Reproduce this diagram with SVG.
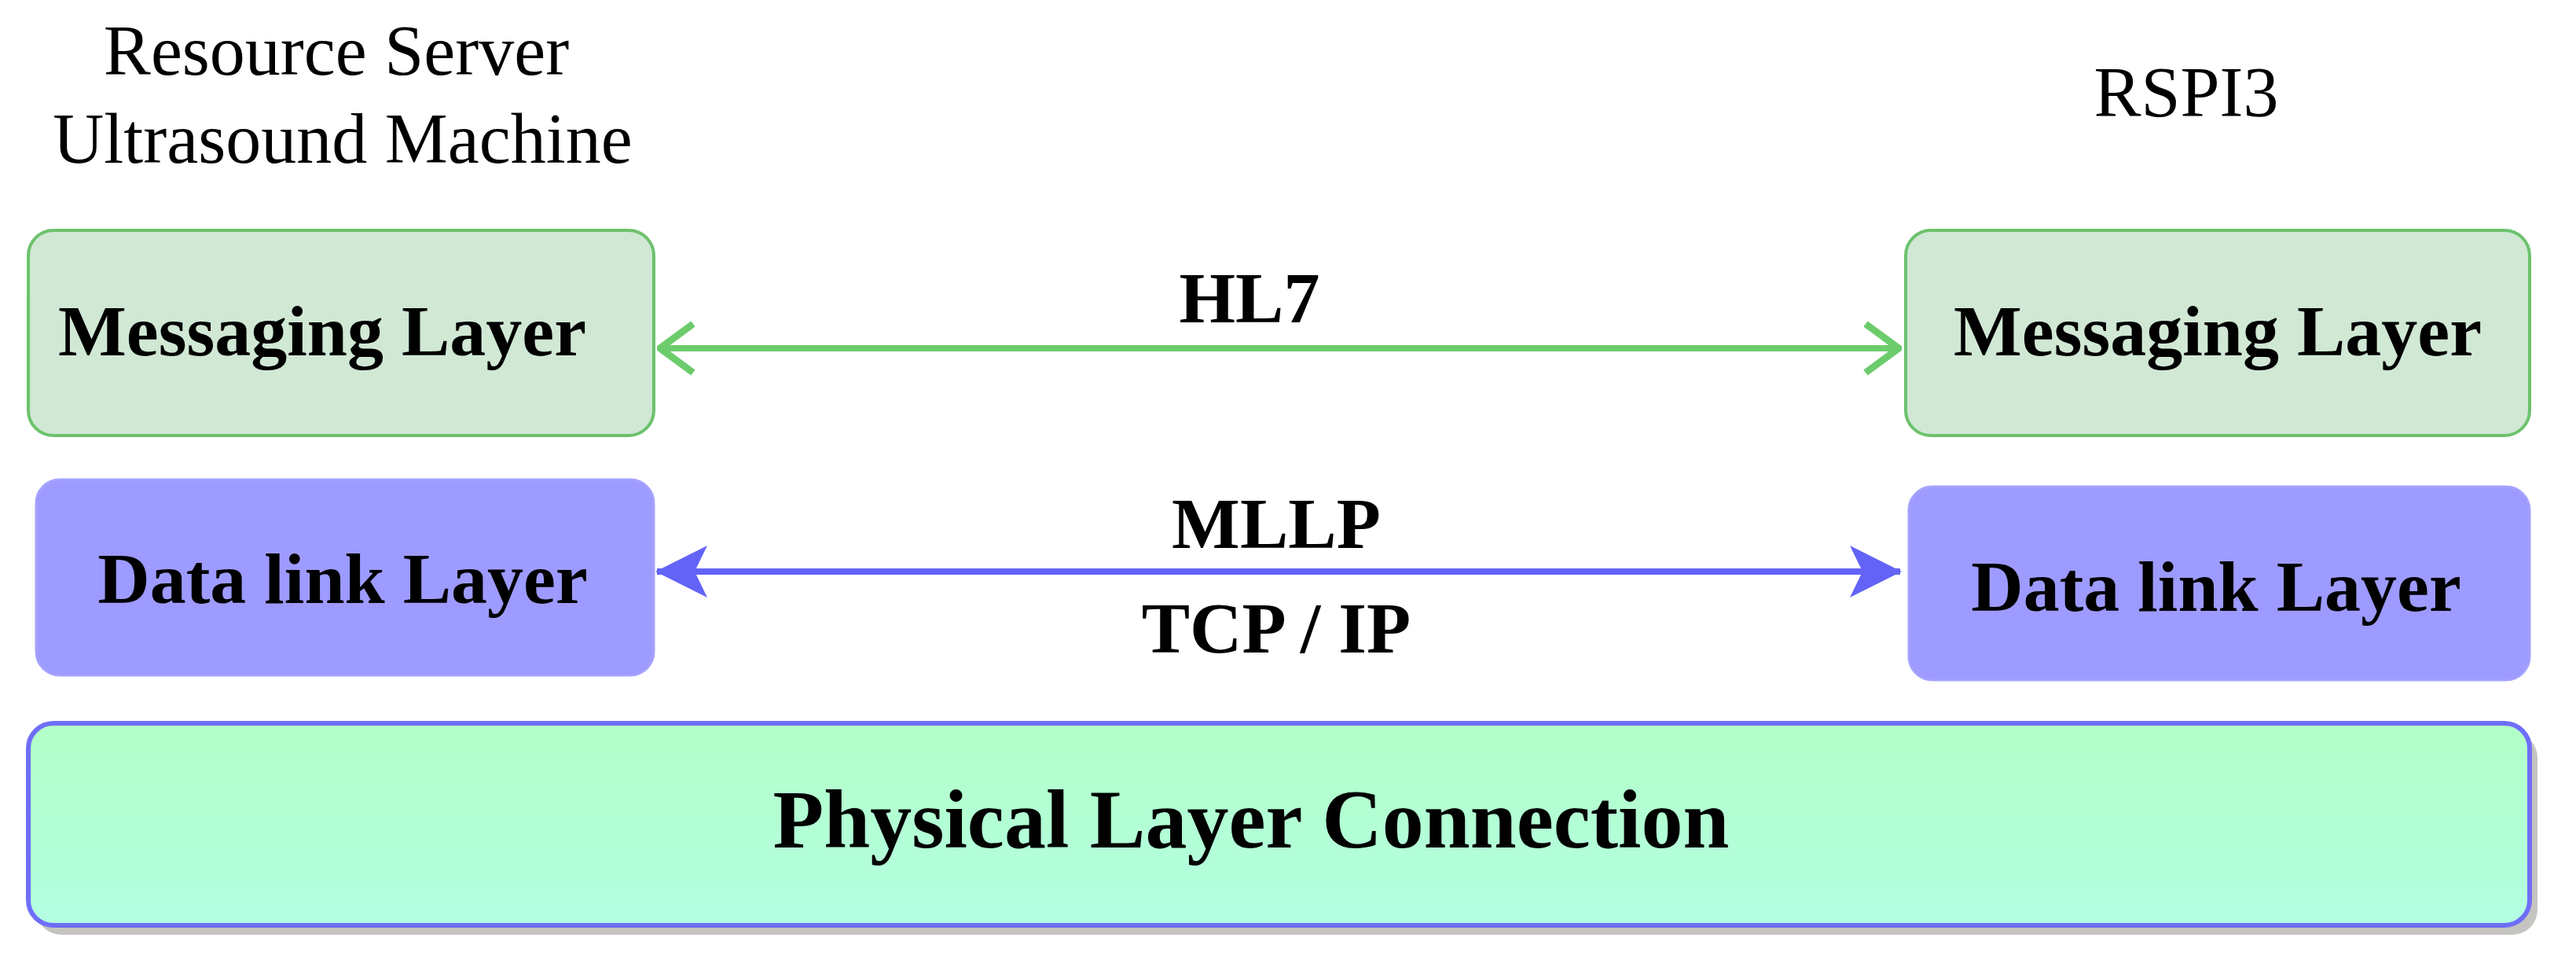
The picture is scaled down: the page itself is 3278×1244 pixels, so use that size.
<svg xmlns="http://www.w3.org/2000/svg" width="3278" height="1244" viewBox="0 0 3278 1244">
<defs>
<style>
text{font-family:"Liberation Serif","Times New Roman",serif;text-anchor:middle;fill:#000}
.b{font-weight:bold;font-size:92px}
.h{font-size:90px}
.msg{fill:#d0e8d4;stroke:#6cc26c;stroke-width:4}
.dl{fill:#9d9bff;stroke:#a4a2ff;stroke-width:3}
</style>
<marker id="gOpen" viewBox="0 0 50 70" refX="46" refY="35" markerWidth="50" markerHeight="70" orient="auto-start-reverse" markerUnits="userSpaceOnUse">
<path d="M4,4 L46,35 L4,66" fill="none" stroke="#6ccc6c" stroke-width="9"/>
</marker>
<marker id="bArr" viewBox="0 0 66 66" refX="64" refY="33" markerWidth="66" markerHeight="66" orient="auto-start-reverse" markerUnits="userSpaceOnUse">
<path d="M0,0 L66,33 L0,66 L16,33 Z" fill="#6363f7"/>
</marker>
<linearGradient id="pg" x1="0" y1="0" x2="0" y2="1"><stop offset="0" stop-color="#b3ffc8"/><stop offset="1" stop-color="#b3ffe2"/></linearGradient>
</defs>
<text class="h" x="428" y="95">Resource Server</text>
<text class="h" x="436" y="207">Ultrasound Machine</text>
<text class="h" x="2782" y="148">RSPI3</text>
<g id="msgL"><rect class="msg" x="36" y="293" width="796" height="261" rx="32"/><text class="b" x="410" y="452">Messaging Layer</text></g>
<g id="msgR"><rect class="msg" x="2425" y="293" width="794" height="261" rx="32"/><text class="b" x="2822" y="452">Messaging Layer</text></g>
<g id="dlL"><rect class="dl" x="46" y="610" width="786" height="249" rx="30"/><text class="b" x="436" y="767">Data link Layer</text></g>
<g id="dlR"><rect class="dl" x="2429" y="619" width="790" height="246" rx="30"/><text class="b" x="2820" y="777">Data link Layer</text></g>
<g id="phys"><rect x="46" y="932" width="3183" height="257" rx="32" fill="#c6c4c0"/><rect x="36" y="920" width="3183" height="257" rx="32" fill="url(#pg)" stroke="#6f6ef8" stroke-width="6"/><text x="1592" y="1078" style="font-weight:bold;font-size:106px">Physical Layer Connection</text></g>
<g id="connectors">
<line x1="840" y1="443" x2="2416" y2="443" stroke="#6ccc6c" stroke-width="8" marker-start="url(#gOpen)" marker-end="url(#gOpen)"/>
<line x1="836" y1="727" x2="2418" y2="727" stroke="#6363f7" stroke-width="8" marker-start="url(#bArr)" marker-end="url(#bArr)"/>
<text class="b" x="1590" y="410">HL7</text>
<text class="b" x="1624" y="697">MLLP</text>
<text class="b" x="1624" y="830">TCP / IP</text>
</g>
</svg>
